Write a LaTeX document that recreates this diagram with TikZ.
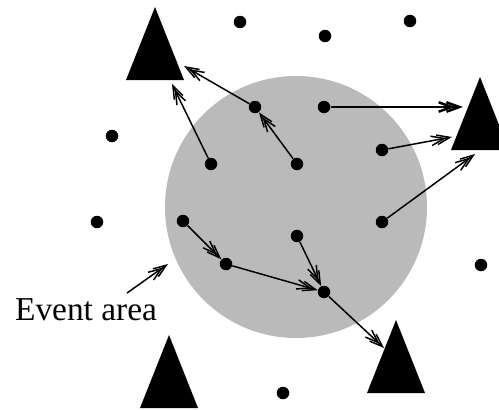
\documentclass[tikz,border=0pt]{standalone}
\usepackage{fontspec}
\setmainfont{Liberation Serif}
\usetikzlibrary{arrows.meta}

\begin{document}
\begin{tikzpicture}[x=0.02cm, y=-0.02cm,
  mote/.style={circle, fill=black, inner sep=0, minimum size=2.5mm},
  hop/.style={-{Straight Barb[length=2.6mm,width=1.9mm,sep=-2mm]Straight Barb[length=2.6mm,width=1.9mm]}, line width=0.85pt},
  lbl/.style={font=\fontsize{19}{22}\selectfont, inner sep=0}
]
\useasboundingbox (0,0) rectangle (499,409);

% event area
\fill[black!27] (296,207) circle[radius=131];

% sinks
\foreach \n/\ax/\ay in {sinkA/155/7, sinkB/480/77, sinkC/169/335, sinkD/396/320}{
  \fill (\ax,\ay) coordinate (\n) -- ++(-29,73) -- ++(58,0) -- cycle;
}

% sensors outside the event
\foreach \n/\x/\y in {o1/240/22, o2/325/36, o3/410/21, o4/112/136, o5/97/222, o6/481/265, o7/283/393}{
  \node[mote] (\n) at (\x,\y) {};
}
% sensors inside the event
\foreach \n/\x/\y in {a/255/107, b/324/107, c/211/164, d/297/164, e/382/150,
                      f/183/221, g/297/236, h/382/222, i/226/264, j/324/292}{
  \node[mote] (\n) at (\x,\y) {};
}

% where the reports reach the sinks
\coordinate (inA1) at (172,84);
\coordinate (inA2) at (184,66);
\coordinate (inB1) at (463,107);
\coordinate (inB2) at (452,137);
\coordinate (inB3) at (475,154);
\coordinate (inD) at (384,348);

% reports
\draw[hop] (c) -- (inA1);
\draw[hop] (a) -- (inA2);
\draw[hop] (d) -- (a);
\draw[hop, line width=1.4pt] (b) -- (inB1);
\draw[hop] (e) -- (inB2);
\draw[hop] (h) -- (inB3);
\draw[hop] (f) -- (i);
\draw[hop] (i) -- (j);
\draw[hop] (g) -- (j);
\draw[hop] (j) -- (inD);

% label
\node[lbl, anchor=base] (evt) at (86,320) {Event area};
\coordinate (evtTail) at (127,293);
\coordinate (evtEdge) at (168,264);
\draw[hop] (evtTail) -- (evtEdge);
\end{tikzpicture}
\end{document}
